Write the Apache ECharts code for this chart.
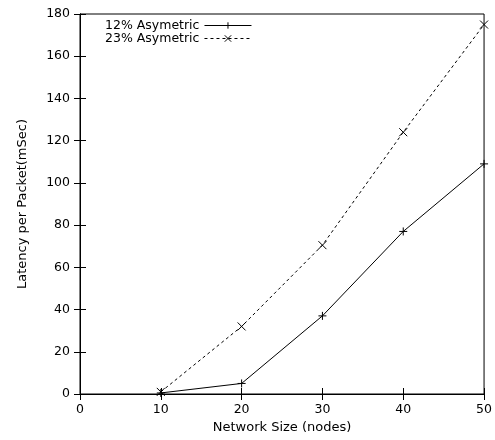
<!DOCTYPE html>
<html><head><meta charset="utf-8">
<script src="https://cdn.jsdelivr.net/npm/echarts@6/dist/echarts.min.js"></script>
<style>html,body{margin:0;padding:0;background:#fff}#c{width:495px;height:440px}</style>
</head><body><div id="c"></div>
<script>
const xValues = [10, 20, 30, 40, 50];
const series12 = [0.5, 5, 37, 77, 109];
const series23 = [1, 32, 70.5, 124, 175];
const seriesNames = ['12% Asymetric', '23% Asymetric'];
const xTitle = 'Network Size (nodes)';
const yTitle = 'Latency per Packet(mSec)';

const font = '"DejaVu Sans", sans-serif';
const chart = echarts.init(document.getElementById('c'));
const plus = 'path://M0,-4L0,4M-4,0L4,0';
const cross = 'path://M-4,-4L4,4M-4,4L4,-4';
const axisCommon = {
  type: 'value',
  axisLine: {show: true, lineStyle: {color: '#000', width: 1}},
  axisTick: {show: true, inside: true, length: 6, lineStyle: {color: '#000'}},
  splitLine: {show: false},
  axisLabel: {color: '#000', fontSize: 12.5, fontFamily: font}
};
chart.setOption({
  animation: false,
  backgroundColor: '#fff',
  grid: {left: 80, right: 9, top: 14, bottom: 46, show: true, borderColor: '#000', borderWidth: 1},
  legend: {
    left: 100, top: 14, orient: 'vertical', align: 'right', itemGap: 0,
    itemWidth: 47, itemHeight: 8,
    lineStyle: {width: 1},
    itemStyle: {borderWidth: 1},
    textStyle: {color: '#000', fontSize: 12.5, fontFamily: font},
    data: seriesNames
  },
  xAxis: [
    Object.assign({}, axisCommon, {min: 0, max: 50, interval: 10, name: xTitle, nameLocation: 'middle', nameGap: 25,
      nameTextStyle: {color: '#000', fontSize: 13, fontFamily: font}, axisLabel: {color: '#000', fontSize: 12.5, fontFamily: font, margin: 9}}),
    Object.assign({}, axisCommon, {min: 0, max: 50, interval: 10, position: 'top', axisLabel: {show: false}})
  ],
  yAxis: [
    Object.assign({}, axisCommon, {min: 0, max: 180, interval: 20, name: yTitle, nameLocation: 'middle', nameGap: 51,
      nameTextStyle: {color: '#000', fontSize: 13, fontFamily: font}, axisLabel: {color: '#000', fontSize: 12.5, fontFamily: font, margin: 10}}),
    Object.assign({}, axisCommon, {min: 0, max: 180, interval: 20, position: 'right', axisLabel: {show: false}})
  ],
  series: [
    {name: seriesNames[0], type: 'line', data: xValues.map((x, i) => [x, series12[i]]),
     symbol: plus, symbolSize: 8, showSymbol: true,
     lineStyle: {color: '#000', width: 1, type: 'solid'},
     itemStyle: {color: 'none', borderColor: '#000', borderWidth: 1}},
    {name: seriesNames[1], type: 'line', data: xValues.map((x, i) => [x, series23[i]]),
     symbol: cross, symbolSize: 8, showSymbol: true,
     lineStyle: {color: '#000', width: 1, type: [3, 3]},
     itemStyle: {color: 'none', borderColor: '#000', borderWidth: 1}}
  ]
});
</script></body></html>
